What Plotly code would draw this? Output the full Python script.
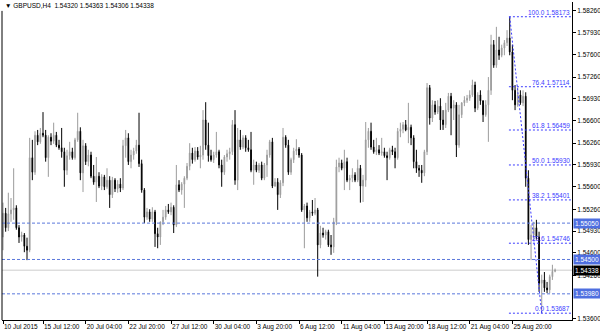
import plotly.graph_objects as go

# ---- data (GBPUSD H4, bar index 0..207) ----
open_ = [
 1.5484,1.5520,1.5498,1.5519,1.5525,1.5528,1.5498,1.5484,1.5487,1.5470,
 1.5464,1.5604,1.5582,1.5638,1.5628,1.5641,1.5638,1.5604,1.5635,1.5629,
 1.5638,1.5623,1.5619,1.5613,1.5585,1.5607,1.5613,1.5604,1.5631,1.5644,
 1.5581,1.5622,1.5598,1.5608,1.5576,1.5567,1.5576,1.5561,1.5575,1.5560,
 1.5570,1.5548,1.5570,1.5557,1.5564,1.5558,1.5622,1.5634,1.5598,1.5608,
 1.5614,1.5623,1.5595,1.5555,1.5514,1.5522,1.5511,1.5522,1.5489,1.5484,
 1.5507,1.5514,1.5525,1.5522,1.5529,1.5502,1.5563,1.5555,1.5564,1.5573,
 1.5591,1.5611,1.5601,1.5614,1.5605,1.5608,1.5661,1.5623,1.5607,1.5601,
 1.5608,1.5613,1.5593,1.5582,1.5605,1.5610,1.5613,1.5654,1.5570,1.5631,
 1.5620,1.5634,1.5619,1.5616,1.5585,1.5593,1.5585,1.5593,1.5573,1.5593,
 1.5608,1.5628,1.5561,1.5567,1.5548,1.5566,1.5635,1.5623,1.5582,1.5601,
 1.5614,1.5617,1.5608,1.5525,1.5531,1.5513,1.5522,1.5520,1.5525,1.5472,
 1.5490,1.5487,1.5492,1.5472,1.5469,1.5507,1.5590,1.5596,1.5588,1.5598,
 1.5570,1.5573,1.5578,1.5570,1.5588,1.5561,1.5570,1.5631,1.5644,1.5620,
 1.5613,1.5616,1.5611,1.5613,1.5607,1.5604,1.5616,1.5613,1.5604,1.5644,
 1.5647,1.5654,1.5646,1.5650,1.5634,1.5598,1.5588,1.5585,1.5581,1.5613,
 1.5710,1.5664,1.5684,1.5673,1.5682,1.5661,1.5654,1.5676,1.5697,1.5679,
 1.5684,1.5623,1.5669,1.5687,1.5691,1.5694,1.5699,1.5714,1.5679,1.5699,
 1.5690,1.5669,1.5684,1.5706,1.5775,1.5744,1.5767,1.5759,1.5770,1.5778,
 1.5785,1.5764,1.5706,1.5684,1.5699,1.5687,1.5697,1.5573,1.5480,1.5487,
 1.5498,1.5484,1.5414,1.5419,1.5407,1.5404,1.5424,1.54320]
high = [
 1.5536,1.5528,1.5551,1.5543,1.5588,1.5532,1.5502,1.5492,1.5490,1.5483,
 1.5634,1.5631,1.5644,1.5646,1.5649,1.5673,1.5646,1.5638,1.5641,1.5657,
 1.5643,1.5631,1.5649,1.5619,1.5616,1.5628,1.5619,1.5634,1.5672,1.5650,
 1.5631,1.5626,1.5616,1.5613,1.5593,1.5605,1.5582,1.5579,1.5578,1.5588,
 1.5576,1.5575,1.5573,1.5570,1.5573,1.5631,1.5646,1.5641,1.5616,1.5619,
 1.5631,1.5672,1.5601,1.5558,1.5528,1.5526,1.5529,1.5525,1.5498,1.5507,
 1.5525,1.5531,1.5534,1.5536,1.5532,1.5593,1.5570,1.5567,1.5576,1.5596,
 1.5626,1.5619,1.5620,1.5620,1.5622,1.5676,1.5688,1.5657,1.5616,1.5613,
 1.5643,1.5616,1.5601,1.5608,1.5616,1.5619,1.5661,1.5676,1.5649,1.5646,
 1.5638,1.5638,1.5631,1.5643,1.5601,1.5598,1.5596,1.5598,1.5596,1.5616,
 1.5631,1.5634,1.5573,1.5573,1.5570,1.5649,1.5638,1.5631,1.5604,1.5619,
 1.5632,1.5620,1.5611,1.5534,1.5536,1.5525,1.5540,1.5543,1.5528,1.5501,
 1.5498,1.5495,1.5495,1.5487,1.5513,1.5601,1.5604,1.5601,1.5616,1.5604,
 1.5578,1.5588,1.5582,1.5601,1.5593,1.5578,1.5658,1.5649,1.5657,1.5631,
 1.5634,1.5623,1.5634,1.5619,1.5613,1.5619,1.5622,1.5619,1.5649,1.5657,
 1.5658,1.5661,1.5687,1.5654,1.5638,1.5616,1.5593,1.5593,1.5616,1.5717,
 1.5714,1.5691,1.5690,1.5691,1.5694,1.5676,1.5687,1.5702,1.5702,1.5691,
 1.5688,1.5684,1.5688,1.5697,1.5699,1.5706,1.5722,1.5719,1.5703,1.5706,
 1.5691,1.5691,1.5726,1.5790,1.5782,1.5802,1.5787,1.5775,1.5782,1.5797,
 1.58173,1.5775,1.5714,1.5710,1.5706,1.5706,1.5703,1.5585,1.5502,1.5507,
 1.5510,1.5492,1.5427,1.5431,1.5416,1.5427,1.5442,1.54363]
low = [
 1.5464,1.5492,1.5493,1.5507,1.5510,1.5495,1.5475,1.5477,1.5461,1.5449,
 1.5461,1.5570,1.5578,1.5623,1.5625,1.5635,1.5598,1.5575,1.5623,1.5625,
 1.5620,1.5616,1.5604,1.5560,1.5578,1.5601,1.5601,1.5601,1.5628,1.5570,
 1.5552,1.5593,1.5591,1.5573,1.5563,1.5537,1.5558,1.5555,1.5555,1.5557,
 1.5528,1.5543,1.5552,1.5551,1.5552,1.5555,1.5604,1.5593,1.5588,1.5601,
 1.5610,1.5590,1.5551,1.5505,1.5510,1.5507,1.5507,1.5469,1.5467,1.5472,
 1.5502,1.5510,1.5519,1.5517,1.5490,1.5499,1.5552,1.5548,1.5528,1.5570,
 1.5585,1.5595,1.5598,1.5601,1.5588,1.5601,1.5616,1.5598,1.5598,1.5596,
 1.5604,1.5588,1.5560,1.5578,1.5598,1.5601,1.5608,1.5563,1.5555,1.5616,
 1.5617,1.5613,1.5613,1.5582,1.5563,1.5582,1.5581,1.5570,1.5570,1.5575,
 1.5604,1.5558,1.5560,1.5525,1.5543,1.5561,1.5619,1.5578,1.5578,1.5596,
 1.5608,1.5604,1.5522,1.5467,1.5507,1.5507,1.5516,1.5517,1.5424,1.5467,
 1.5483,1.5480,1.5469,1.5457,1.5460,1.5502,1.5582,1.5585,1.5555,1.5567,
 1.5555,1.5567,1.5567,1.5567,1.5536,1.5537,1.5560,1.5619,1.5616,1.5610,
 1.5608,1.5608,1.5607,1.5604,1.5570,1.5601,1.5608,1.5588,1.5601,1.5635,
 1.5641,1.5644,1.5626,1.5623,1.5588,1.5581,1.5575,1.5566,1.5576,1.5608,
 1.5654,1.5658,1.5669,1.5670,1.5646,1.5646,1.5649,1.5673,1.5638,1.5661,
 1.5605,1.5619,1.5664,1.5682,1.5687,1.5690,1.5696,1.5673,1.5676,1.5684,
 1.5658,1.5666,1.5628,1.5699,1.5740,1.5740,1.5752,1.5756,1.5759,1.5773,
 1.5759,1.5691,1.5676,1.5681,1.5684,1.5682,1.5560,1.5472,1.5449,1.5480,
 1.5480,1.5401,1.53687,1.5401,1.5399,1.5399,1.5419,1.54306]
close = [
 1.5520,1.5498,1.5519,1.5525,1.5528,1.5498,1.5484,1.5487,1.5470,1.5464,
 1.5604,1.5582,1.5638,1.5628,1.5641,1.5638,1.5604,1.5635,1.5629,1.5638,
 1.5623,1.5619,1.5613,1.5585,1.5607,1.5613,1.5604,1.5631,1.5644,1.5581,
 1.5622,1.5598,1.5608,1.5576,1.5567,1.5576,1.5561,1.5575,1.5560,1.5570,
 1.5548,1.5570,1.5557,1.5564,1.5558,1.5622,1.5634,1.5598,1.5608,1.5614,
 1.5623,1.5595,1.5555,1.5514,1.5522,1.5511,1.5522,1.5489,1.5484,1.5507,
 1.5514,1.5525,1.5522,1.5529,1.5502,1.5563,1.5555,1.5564,1.5573,1.5591,
 1.5611,1.5601,1.5614,1.5605,1.5608,1.5661,1.5623,1.5607,1.5601,1.5608,
 1.5613,1.5593,1.5582,1.5605,1.5610,1.5613,1.5654,1.5570,1.5631,1.5620,
 1.5634,1.5619,1.5616,1.5585,1.5593,1.5585,1.5593,1.5573,1.5593,1.5608,
 1.5628,1.5561,1.5567,1.5548,1.5566,1.5635,1.5623,1.5582,1.5601,1.5614,
 1.5617,1.5608,1.5525,1.5531,1.5513,1.5522,1.5520,1.5525,1.5472,1.5490,
 1.5487,1.5492,1.5472,1.5469,1.5507,1.5590,1.5596,1.5588,1.5598,1.5570,
 1.5573,1.5578,1.5570,1.5588,1.5561,1.5570,1.5631,1.5644,1.5620,1.5613,
 1.5616,1.5611,1.5613,1.5607,1.5604,1.5616,1.5613,1.5604,1.5644,1.5647,
 1.5654,1.5646,1.5650,1.5634,1.5598,1.5588,1.5585,1.5581,1.5613,1.5710,
 1.5664,1.5684,1.5673,1.5682,1.5661,1.5654,1.5676,1.5697,1.5679,1.5684,
 1.5623,1.5669,1.5687,1.5691,1.5694,1.5699,1.5714,1.5679,1.5699,1.5690,
 1.5669,1.5684,1.5706,1.5775,1.5744,1.5767,1.5759,1.5770,1.5778,1.5785,
 1.5764,1.5706,1.5684,1.5699,1.5687,1.5697,1.5573,1.5480,1.5487,1.5498,
 1.5484,1.5414,1.5419,1.5407,1.5404,1.5424,1.5432,1.54338]
bars = list(range(len(close)))

x_tick_bars = [0, 15, 31, 47, 63, 79, 95, 111, 127, 143, 159, 175, 191]
x_tick_labels = ["10 Jul 2015", "15 Jul 12:00", "20 Jul 04:00", "22 Jul 20:00",
                 "27 Jul 12:00", "30 Jul 04:00", "3 Aug 20:00", "6 Aug 12:00",
                 "11 Aug 04:00", "13 Aug 20:00", "18 Aug 12:00", "21 Aug 04:00",
                 "25 Aug 20:00"]
y_ticks = [1.58260, 1.57930, 1.57600, 1.57260, 1.56930, 1.56600, 1.56260, 1.55930,
           1.55600, 1.55260, 1.54930, 1.54600, 1.54260, 1.53600]

fib_levels = ["100.0", "76.4", "61.8", "50.0", "38.2", "23.6", "0.0"]
fib_prices = [1.58173, 1.57114, 1.56459, 1.55930, 1.55401, 1.54746, 1.53687]
fib_high_bar = 190
fib_low_bar = 202

level_prices = [1.55050, 1.54500, 1.53980]
current_price = 1.54338
header = "▼ GBPUSD,H4  1.54320 1.54363 1.54306 1.54338"

# ---- figure ----
FONT = "Liberation Sans"
FS = 6.5
XR = [-0.375, 213.35]
YR = [1.53584, 1.58396]
BLUE_LVL = "#5a78dc"
BLUE_FIB = "#3c3cff"

fig = go.Figure()
fig.add_trace(go.Candlestick(
    x=bars, open=open_, high=high, low=low, close=close,
    increasing=dict(line=dict(color="#9c9c9c", width=1), fillcolor="#acacac"),
    decreasing=dict(line=dict(color="#000000", width=1), fillcolor="#000000"),
    whiskerwidth=0, showlegend=False, hoverinfo="skip"))

shapes = []
shapes.append(dict(type="line", xref="paper", x0=0, x1=1, yref="y",
                   y0=current_price, y1=current_price, layer="below",
                   line=dict(color="#cccccc", width=1)))
for p in level_prices:
    shapes.append(dict(type="line", xref="paper", x0=0, x1=1, yref="y", y0=p, y1=p,
                       line=dict(color=BLUE_LVL, width=1, dash="3px,2px")))
for p in fib_prices:
    shapes.append(dict(type="line", xref="x", x0=fib_high_bar - 0.3, x1=XR[1],
                       yref="y", y0=p, y1=p,
                       line=dict(color=BLUE_FIB, width=1, dash="2px,2px")))
shapes.append(dict(type="line", xref="x", yref="y",
                   x0=fib_high_bar, y0=fib_prices[0], x1=fib_low_bar, y1=fib_prices[-1],
                   line=dict(color=BLUE_FIB, width=1, dash="2px,2px")))
shapes.append(dict(type="line", xref="paper", yref="paper", x0=0, x1=0, y0=0, y1=0.972,
                   line=dict(color="#000000", width=1)))

annotations = []
for lv, p in zip(fib_levels, fib_prices):
    annotations.append(dict(xref="paper", x=1, xanchor="right", xshift=-1,
                            yref="y", y=p, yanchor="bottom", yshift=0,
                            text=f"{lv} {p:.5f}", showarrow=False, borderpad=0,
                            font=dict(family=FONT, size=FS, color=BLUE_FIB)))
for p in level_prices:
    annotations.append(dict(xref="paper", x=1, xanchor="left", xshift=1,
                            yref="y", y=p, yanchor="middle",
                            text=f"{p:.5f}", showarrow=False, borderpad=1,
                            bgcolor="#4f6fe0", width=24, align="left",
                            font=dict(family=FONT, size=FS, color="#ffffff")))
annotations.append(dict(xref="paper", x=1, xanchor="left", xshift=1,
                        yref="y", y=current_price, yanchor="middle",
                        text=f"{current_price:.5f}", showarrow=False, borderpad=1,
                        bgcolor="#000000", width=24, align="left",
                        font=dict(family=FONT, size=FS, color="#ffffff")))
annotations.append(dict(xref="paper", x=0, xanchor="left", xshift=2,
                        yref="paper", y=1, yanchor="top", yshift=1,
                        text=header, showarrow=False, borderpad=0,
                        font=dict(family=FONT, size=FS, color="#000000")))

fig.update_layout(
    width=600, height=333,
    margin=dict(l=2, r=28, t=2, b=13, autoexpand=False),
    paper_bgcolor="white", plot_bgcolor="white",
    font=dict(family=FONT, size=FS, color="#000000"),
    showlegend=False,
    boxgap=0.6,
    shapes=shapes, annotations=annotations,
    xaxis=dict(range=XR, rangeslider=dict(visible=False), showgrid=False, zeroline=False,
               showline=True, linecolor="#000000", linewidth=1, automargin=False,
               tickmode="array", tickvals=x_tick_bars, ticktext=x_tick_labels,
               ticks="outside", ticklen=3, tickcolor="#000000", tickwidth=1,
               ticklabelposition="outside right", tickangle=0,
               tickfont=dict(family=FONT, size=FS, color="#000000"), fixedrange=True),
    yaxis=dict(range=YR, side="right", showgrid=False, zeroline=False,
               showline=True, linecolor="#000000", linewidth=1, automargin=False,
               tickmode="array", tickvals=y_ticks, ticktext=[f"{v:.5f}" for v in y_ticks],
               ticks="outside", ticklen=3, tickcolor="#000000", tickwidth=1,
               tickfont=dict(family=FONT, size=FS, color="#000000"), fixedrange=True),
)

fig.write_html("out.html")
